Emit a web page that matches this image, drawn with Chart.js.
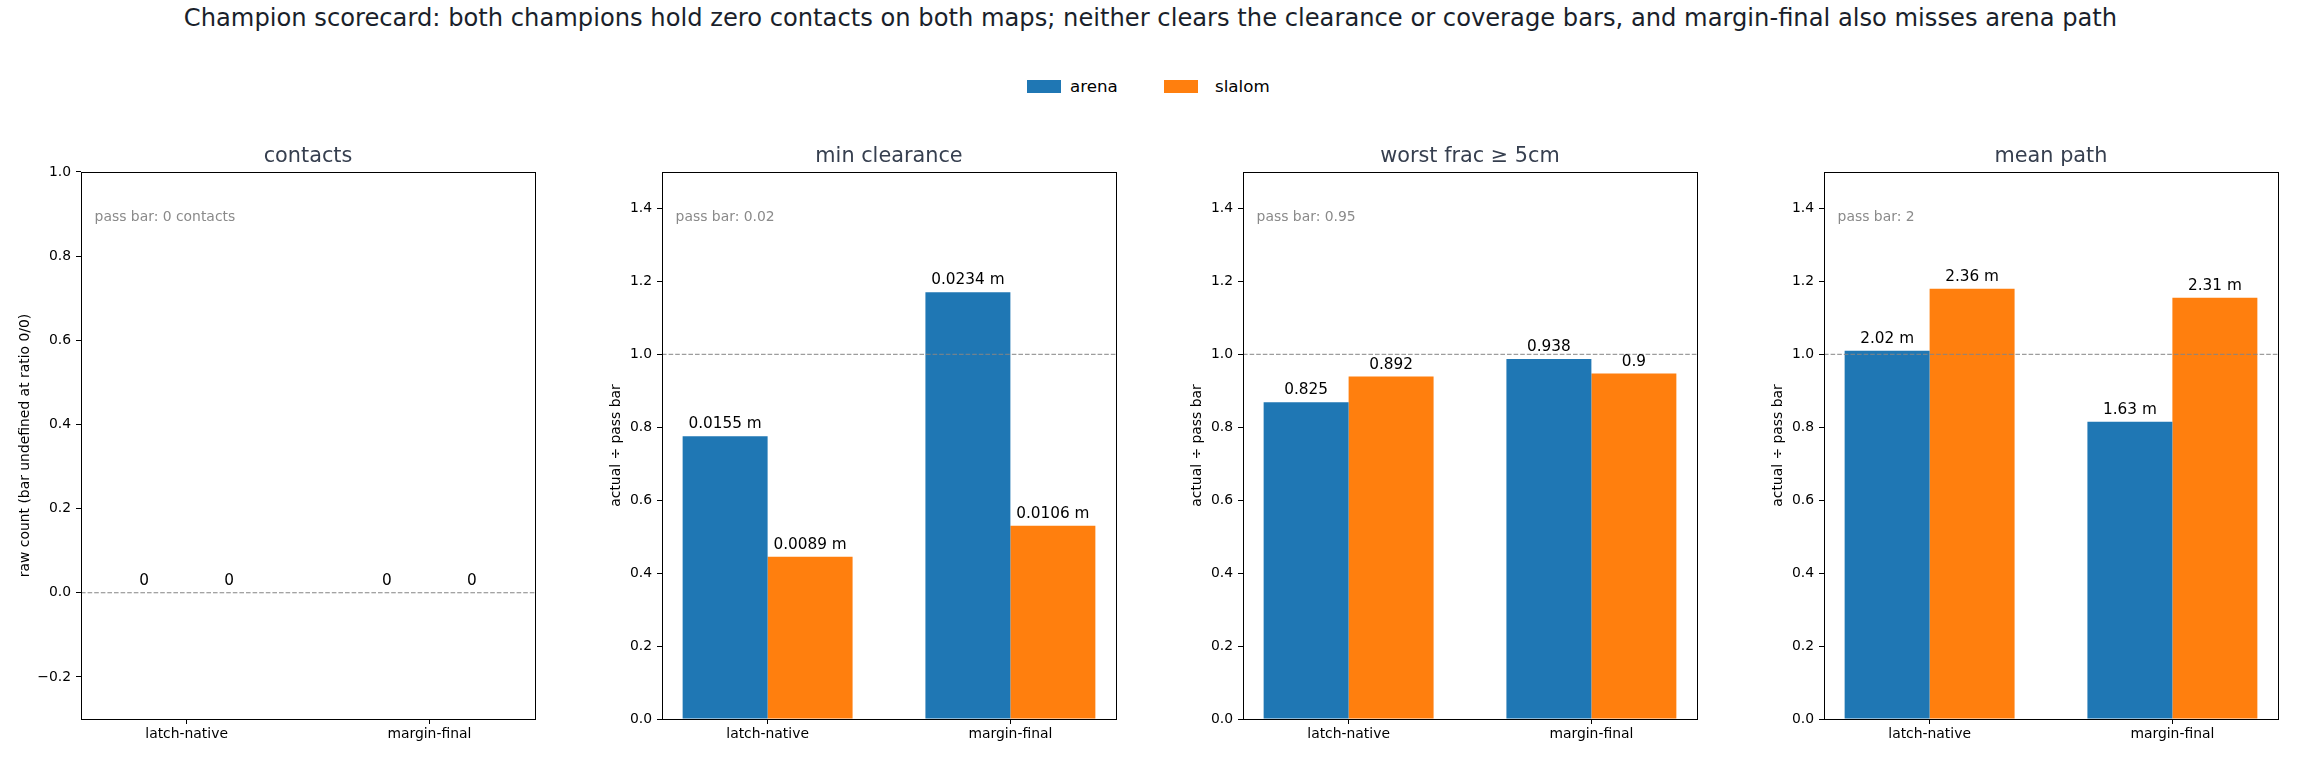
<!DOCTYPE html>
<html>
<head>
<meta charset="utf-8">
<script src="https://cdn.jsdelivr.net/npm/chart.js@4.4.1/dist/chart.umd.min.js"></script>
<style>
  body { margin: 0; background: #fff; font-family: 'DejaVu Sans', sans-serif; }
  #fig { position: relative; width: 2301px; height: 781px; overflow: hidden; background: #fff; }
  #suptitle { position: absolute; left: 0; top: 4px; width: 2301px; text-align: center; font-size: 24.2px; line-height: 28px; color: #1a1f2b; white-space: nowrap; }
  .swatch { position: absolute; top: 80px; width: 34px; height: 13px; }
  .legend-text { position: absolute; top: 76px; font-size: 16.7px; line-height: 20px; color: #000; }
  canvas { position: absolute; }
</style>
</head>
<body>
<div id="fig">
  <div id="suptitle">Champion scorecard: both champions hold zero contacts on both maps; neither clears the clearance or coverage bars, and margin-final also misses arena path</div>
  <div class="swatch" style="left:1027px;background:#1f77b4"></div>
  <div class="legend-text" style="left:1070px">arena</div>
  <div class="swatch" style="left:1164px;background:#ff7f0e"></div>
  <div class="legend-text" style="left:1215px">slalom</div>
</div>
<script>
// data
const categories = ['latch-native', 'margin-final']
const seriesNames = ['arena', 'slalom']
const metricTitles = ['contacts', 'min clearance', 'worst frac \u2265 5cm', 'mean path']
const passBars = [0, 0.02, 0.95, 2]
const passNotes = ['pass bar: 0 contacts', 'pass bar: 0.02', 'pass bar: 0.95', 'pass bar: 2']
const units = ['', ' m', '', ' m']

const contactsArena = [0, 0]
const contactsSlalom = [0, 0]
const clearanceArena = [0.0155, 0.0234]
const clearanceSlalom = [0.0089, 0.0106]
const fracArena = [0.825, 0.938]
const fracSlalom = [0.892, 0.9]
const pathArena = [2.02, 1.63]
const pathSlalom = [2.36, 2.31]

const contactTicks = [-0.2, 0.0, 0.2, 0.4, 0.6, 0.8, 1.0]
const ratioTicks = [0.0, 0.2, 0.4, 0.6, 0.8, 1.0, 1.2, 1.4]

const arenaSets = [contactsArena, clearanceArena, fracArena, pathArena]
const slalomSets = [contactsSlalom, clearanceSlalom, fracSlalom, pathSlalom]

// layout (px)
const panelLefts = [81, 662, 1243, 1824]
const plotW = 454, plotH = 547, plotTop = 172
const yAxisW = 70, titleBlock = 30, xAxisH = 40, padRight = 4
const xMin = -0.435, xMax = 1.435
const FONT = '"DejaVu Sans", sans-serif'
const colors = ['#1f77b4', '#ff7f0e']

const fmtTick = v => (v < 0 ? '\u2212' : '') + Math.abs(v).toFixed(1)

const panelDecor = {
  id: 'panelDecor',
  afterDatasetsDraw(chart, args, opts) {
    const { ctx, chartArea: a } = chart
    ctx.save()
    ctx.font = '15.3px ' + FONT
    ctx.fillStyle = '#000'
    ctx.textAlign = 'center'
    ctx.textBaseline = 'alphabetic'
    opts.labels.forEach((list, di) => {
      chart.getDatasetMeta(di).data.forEach((bar, j) => {
        ctx.fillText(list[j], bar.x, bar.y - 8)
      })
    })
    ctx.font = '13.9px ' + FONT
    ctx.fillStyle = '#8a8a8a'
    ctx.textAlign = 'left'
    ctx.fillText(opts.note, a.left + 0.03 * (a.right - a.left), a.top + 49)
    ctx.strokeStyle = '#000'
    ctx.lineWidth = 1
    ctx.strokeRect(Math.round(a.left) + 0.5, Math.round(a.top) + 0.5,
      Math.round(a.right - a.left), Math.round(a.bottom - a.top))
    ctx.restore()
  }
}

function renderPanel(i) {
  const isContacts = i === 0
  const pass = passBars[i]
  const toY = v => isContacts ? v : v / pass
  const canvas = document.createElement('canvas')
  const w = yAxisW + plotW + padRight
  const h = titleBlock + plotH + xAxisH
  canvas.width = w
  canvas.height = h
  canvas.style.left = (panelLefts[i] - yAxisW) + 'px'
  canvas.style.top = (plotTop - titleBlock) + 'px'
  canvas.style.width = w + 'px'
  canvas.style.height = h + 'px'
  document.getElementById('fig').appendChild(canvas)

  const raw = [arenaSets[i], slalomSets[i]]
  const labels = raw.map(list => list.map(v => String(v) + units[i]))
  const passLine = isContacts ? 0 : 1
  const tickList = isContacts ? contactTicks : ratioTicks

  const barSets = raw.map((list, s) => ({
    type: 'bar',
    label: seriesNames[s],
    data: list.map((v, j) => ({ x: j, y: toY(v) })),
    backgroundColor: colors[s],
    borderWidth: 0,
    categoryPercentage: 0.7,
    barPercentage: 1.0,
    order: 1
  }))

  new Chart(canvas, {
    type: 'bar',
    data: {
      datasets: [...barSets, {
        type: 'line',
        label: 'pass',
        data: [{ x: xMin, y: passLine }, { x: xMax, y: passLine }],
        borderColor: '#858585',
        borderWidth: 1,
        borderDash: [4.6, 2],
        pointRadius: 0,
        order: 0
      }]
    },
    options: {
      responsive: false,
      animation: false,
      devicePixelRatio: 1,
      layout: { padding: { left: 0, right: padRight, top: 0, bottom: 0 } },
      scales: {
        x: {
          type: 'linear',
          min: xMin,
          max: xMax,
          offset: false,
          afterBuildTicks: s => { s.ticks = categories.map((c, j) => ({ value: j })) },
          afterFit: s => { s.height = xAxisH },
          ticks: {
            callback: (v, idx) => categories[idx],
            color: '#000',
            font: { family: FONT, size: 13.9 },
            padding: 2,
            maxRotation: 0,
            autoSkip: false
          },
          grid: { display: true, offset: false, drawOnChartArea: false, drawTicks: true, tickLength: 5, color: '#000', lineWidth: 1 },
          border: { display: false }
        },
        y: {
          min: isContacts ? -0.3 : 0,
          max: isContacts ? 1.0 : 1.5,
          afterBuildTicks: s => { s.ticks = tickList.map(v => ({ value: v })) },
          afterFit: s => { s.width = yAxisW },
          ticks: {
            callback: v => fmtTick(v),
            color: '#000',
            font: { family: FONT, size: 13.9 },
            padding: 5
          },
          grid: { display: true, drawOnChartArea: false, drawTicks: true, tickLength: 5, color: '#000', lineWidth: 1 },
          border: { display: false },
          title: {
            display: true,
            text: isContacts ? 'raw count (bar undefined at ratio 0/0)' : 'actual \u00f7 pass bar',
            color: '#000',
            font: { family: FONT, size: 13.9 },
            padding: { top: isContacts ? 5.7 : 15.7, bottom: 0 }
          }
        }
      },
      plugins: {
        legend: { display: false },
        tooltip: { enabled: false },
        title: {
          display: true,
          text: metricTitles[i],
          fullSize: false,
          color: '#363f4f',
          font: { family: FONT, size: 20.8, weight: 'normal' },
          padding: { top: 2.5, bottom: 2.5 }
        },
        panelDecor: { labels, note: passNotes[i] }
      }
    },
    plugins: [panelDecor]
  })
}

metricTitles.forEach((t, i) => renderPanel(i))
</script>
</body>
</html>
